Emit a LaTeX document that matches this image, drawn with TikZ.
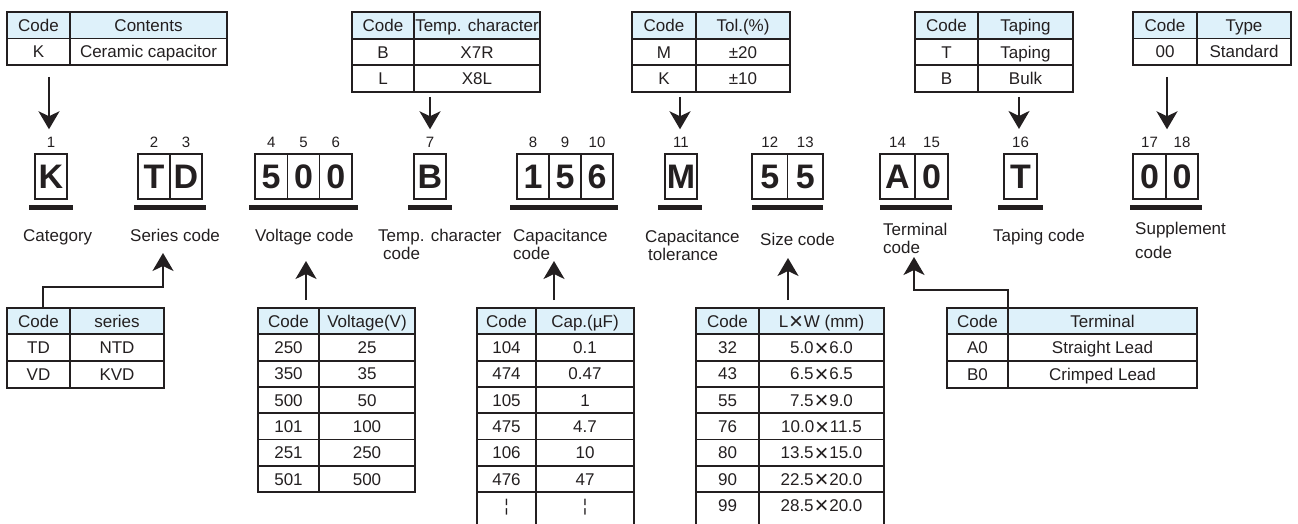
\documentclass[tikz,border=0pt]{standalone}
\usepackage{fontspec}
\setmainfont{Liberation Sans}
\usetikzlibrary{arrows.meta,positioning,calc}
\definecolor{ink}{RGB}{35,31,32}
\definecolor{headblue}{RGB}{222,241,250}
\newcommand{\sizex}{\kern0.8pt\raisebox{-2.6pt}{\fontsize{24}{24}\selectfont ×}\kern0.8pt}

\begin{document}
\begin{tikzpicture}[x=1pt, y=-1pt,
    tabline/.style={draw=ink, line width=1.8pt},
    headfill/.style={fill=headblue},
    tabtext/.style={font=\fontsize{17}{20}\selectfont, text=ink, inner sep=0pt, text height=12.2pt, text depth=0pt},
    cell/.style={draw=ink, line width=1.2pt, outer sep=0pt, inner sep=0pt, minimum width=32pt, minimum height=45pt, text=ink, font=\fontsize{34}{36}\selectfont\bfseries},
    posnum/.style={font=\fontsize{15}{18}\selectfont, text=ink, inner sep=0pt},
    bar/.style={draw=ink, line width=5.5pt},
    lbl/.style={font=\fontsize{17}{20}\selectfont, text=ink, inner sep=0pt, anchor=base west},
    pointer/.style={draw=ink, line width=2.2pt, -{Stealth[length=18pt, width=21pt, inset=5pt]}}]

    \useasboundingbox (0,0) rectangle (1298,524);
    \clip (0,0) rectangle (1298,524);

    % ---- top tables ----
    % category
    \fill[headfill] (7,12) rectangle (227,38.5);
    \draw[tabline] (7,12) rectangle (227,65);
    \draw[tabline] (7,38.5) -- (227,38.5) (70,12) -- (70,65);
    \foreach \code/\val [count=\i] in {Code/Contents, K/Ceramic capacitor} {
        \node[tabtext] (cat-\i-a) at (38.5,{12+26.5*(\i-0.5)}) {\code};
        \node[tabtext] (cat-\i-b) at (148.5,{12+26.5*(\i-0.5)}) {\val};
    }
    \coordinate (tabCat) at (49,65);

    % temp. character
    \fill[headfill] (352,12) rectangle (540,38.7);
    \draw[tabline] (352,12) rectangle (540,92);
    \draw[tabline] (352,38.7) -- (540,38.7) (352,65.4) -- (540,65.4) (414,12) -- (414,92);
    \foreach \code/\val [count=\i] in {Code/Temp. character, B/X7R, L/X8L} {
        \node[tabtext] (tmp-\i-a) at (383,{12+26.7*(\i-0.5)}) {\code};
        \node[tabtext] (tmp-\i-b) at (477,{12+26.7*(\i-0.5)}) {\val};
    }
    \coordinate (tabTemp) at (430,92);

    % tolerance
    \fill[headfill] (632,12) rectangle (790,38.7);
    \draw[tabline] (632,12) rectangle (790,92);
    \draw[tabline] (632,38.7) -- (790,38.7) (632,65.4) -- (790,65.4) (696,12) -- (696,92);
    \foreach \code/\val [count=\i] in {Code/Tol.(\%), M/±20, K/±10} {
        \node[tabtext] (tol-\i-a) at (664,{12+26.7*(\i-0.5)}) {\code};
        \node[tabtext] (tol-\i-b) at (743,{12+26.7*(\i-0.5)}) {\val};
    }
    \coordinate (tabTol) at (680,92);

    % taping
    \fill[headfill] (915,12) rectangle (1073,38.7);
    \draw[tabline] (915,12) rectangle (1073,92);
    \draw[tabline] (915,38.7) -- (1073,38.7) (915,65.4) -- (1073,65.4) (978,12) -- (978,92);
    \foreach \code/\val [count=\i] in {Code/Taping, T/Taping, B/Bulk} {
        \node[tabtext] (tap-\i-a) at (946.5,{12+26.7*(\i-0.5)}) {\code};
        \node[tabtext] (tap-\i-b) at (1025.5,{12+26.7*(\i-0.5)}) {\val};
    }
    \coordinate (tabTap) at (1019,92);

    % supplement
    \fill[headfill] (1133,12) rectangle (1291,38.5);
    \draw[tabline] (1133,12) rectangle (1291,65);
    \draw[tabline] (1133,38.5) -- (1291,38.5) (1197,12) -- (1197,65);
    \foreach \code/\val [count=\i] in {Code/Type, 00/Standard} {
        \node[tabtext] (sup-\i-a) at (1165,{12+26.5*(\i-0.5)}) {\code};
        \node[tabtext] (sup-\i-b) at (1244,{12+26.5*(\i-0.5)}) {\val};
    }
    \coordinate (tabSup) at (1167,65);

    % ---- code boxes ----
    \node[cell] (cK) at (51,176.5) {K};
    \node[cell] (cT) at (154,176.5) {T};
    \node[cell, right=0pt of cT] (cD) {D};
    \node[cell, minimum width=32.3pt] (cV1) at (271.2,176.5) {5};
    \node[cell, minimum width=32.3pt, right=0pt of cV1] (cV2) {0};
    \node[cell, minimum width=32.3pt, right=0pt of cV2] (cV3) {0};
    \node[cell] (cB) at (430,176.5) {B};
    \node[cell] (cC1) at (533,176.5) {1};
    \node[cell, right=0pt of cC1] (cC2) {5};
    \node[cell, right=0pt of cC2] (cC3) {6};
    \node[cell] (cM) at (681,176.5) {M};
    \node[cell, minimum width=35.5pt] (cS1) at (769.75,176.5) {5};
    \node[cell, minimum width=35.5pt, right=0pt of cS1] (cS2) {5};
    \node[cell, minimum width=35pt] (cA) at (897.5,176.5) {A};
    \node[cell, minimum width=33pt, right=0pt of cA] (cA0) {0};
    \node[cell, minimum width=33pt] (cTp) at (1020.5,176.5) {T};
    \node[cell, minimum width=33pt] (cZ1) at (1149.5,176.5) {0};
    \node[cell, right=0pt of cZ1] (cZ2) {0};

    % position numbers
    \node[posnum, above=6pt of cK] (n1) {1};
    \node[posnum, above=6pt of cT] (n2) {2};
    \node[posnum, above=6pt of cD] (n3) {3};
    \node[posnum, above=6pt of cV1] (n4) {4};
    \node[posnum, above=6pt of cV2] (n5) {5};
    \node[posnum, above=6pt of cV3] (n6) {6};
    \node[posnum, above=6pt of cB] (n7) {7};
    \node[posnum, above=6pt of cC1] (n8) {8};
    \node[posnum, above=6pt of cC2] (n9) {9};
    \node[posnum, above=6pt of cC3] (n10) {10};
    \node[posnum, above=6pt of cM] (n11) {11};
    \node[posnum, above=6pt of cS1] (n12) {12};
    \node[posnum, above=6pt of cS2] (n13) {13};
    \node[posnum, above=6pt of cA] (n14) {14};
    \node[posnum, above=6pt of cA0] (n15) {15};
    \node[posnum, above=6pt of cTp] (n16) {16};
    \node[posnum, above=6pt of cZ1] (n17) {17};
    \node[posnum, above=6pt of cZ2] (n18) {18};

    % bars under the boxes
    \foreach \xa/\xb in {29/73, 134/206, 249/358, 408/452, 510/618, 658/702, 752/823, 880/952, 998/1043, 1130/1202} {
        \draw[bar] (\xa,207.5) -- (\xb,207.5);
    }

    % labels
    \node[lbl] (lCat) at (23,241) {Category};
    \node[lbl] (lSer) at (130,241) {Series code};
    \node[lbl] (lVol) at (255,241) {Voltage code};
    \node[lbl] (lTmp) at (378,241) {Temp. character};
    \node[lbl] (lTmp2) at (383,259) {code};
    \node[lbl] (lCap) at (513,241) {Capacitance};
    \node[lbl] (lCap2) at (513,259) {code};
    \node[lbl] (lTol) at (645,242) {Capacitance};
    \node[lbl] (lTol2) at (648,260) {tolerance};
    \node[lbl] (lSiz) at (760,245) {Size code};
    \node[lbl] (lTer) at (883,235) {Terminal};
    \node[lbl] (lTer2) at (883,253) {code};
    \node[lbl] (lTap) at (993,241) {Taping code};
    \node[lbl] (lSup) at (1135,234) {Supplement};
    \node[lbl] (lSup2) at (1135,258) {code};

    % ---- bottom tables ----
    % series
    \fill[headfill] (7,308) rectangle (164,334);
    \draw[tabline] (7,308) rectangle (164,387.6);
    \draw[tabline] (7,334) -- (164,334) (7,360.8) -- (164,360.8) (70,308) -- (70,387.6);
    \foreach \code/\val [count=\i] in {Code/series, TD/NTD, VD/KVD} {
        \node[tabtext] (ser-\i-a) at (38.5,{308+26.5*(\i-0.5)}) {\code};
        \node[tabtext] (ser-\i-b) at (117,{308+26.5*(\i-0.5)}) {\val};
    }
    \coordinate (tabSer) at (43,308);

    % voltage
    \fill[headfill] (258,308) rectangle (415,334);
    \draw[tabline] (258,308) rectangle (415,492);
    \draw[tabline] (319,308) -- (319,492);
    \foreach \i in {1,...,6} \draw[tabline] (258,{308+26.3*\i}) -- (415,{308+26.3*\i});
    \foreach \code/\val [count=\i] in {Code/Voltage(V), 250/25, 350/35, 500/50, 101/100, 251/250, 501/500} {
        \node[tabtext] (vol-\i-a) at (288.5,{308+26.3*(\i-0.5)}) {\code};
        \node[tabtext] (vol-\i-b) at (367,{308+26.3*(\i-0.5)}) {\val};
    }
    \coordinate (tabVol) at (306,308);

    % capacitance
    \fill[headfill] (477,308) rectangle (634,334);
    \draw[tabline] (477,530) |- (634,308) -- (634,530) (536,308) -- (536,530);
    \foreach \i in {1,...,7} \draw[tabline] (477,{308+26.3*\i}) -- (634,{308+26.3*\i});
    \foreach \code/\val [count=\i] in {Code/Cap.(µF), 104/0.1, 474/0.47, 105/1, 475/4.7, 106/10, 476/47, ¦/¦} {
        \node[tabtext] (cap-\i-a) at (506.5,{308+26.3*(\i-0.5)}) {\code};
        \node[tabtext] (cap-\i-b) at (585,{308+26.3*(\i-0.5)}) {\val};
    }
    \coordinate (tabCap) at (554,308);

    % size
    \fill[headfill] (696,308) rectangle (884,334);
    \draw[tabline] (696,530) |- (884,308) -- (884,530) (759,308) -- (759,530);
    \foreach \i in {1,...,7} \draw[tabline] (696,{308+26.3*\i}) -- (884,{308+26.3*\i});
    \foreach \code/\val [count=\i] in {Code/L\sizex W (mm), 32/5.0\sizex6.0, 43/6.5\sizex6.5, 55/7.5\sizex9.0, 76/10.0\sizex11.5, 80/13.5\sizex15.0, 90/22.5\sizex20.0, 99/28.5\sizex20.0} {
        \node[tabtext] (siz-\i-a) at (727.5,{308+26.3*(\i-0.5)}) {\code};
        \node[tabtext] (siz-\i-b) at (821.5,{308+26.3*(\i-0.5)}) {\val};
    }
    \coordinate (tabSiz) at (788,308);

    % terminal
    \fill[headfill] (947,308) rectangle (1197,334);
    \draw[tabline] (947,308) rectangle (1197,387.6);
    \draw[tabline] (947,334) -- (1197,334) (947,360.8) -- (1197,360.8) (1008,308) -- (1008,387.6);
    \foreach \code/\val [count=\i] in {Code/Terminal, A0/Straight Lead, B0/Crimped Lead} {
        \node[tabtext] (ter-\i-a) at (977.5,{308+26.5*(\i-0.5)}) {\code};
        \node[tabtext] (ter-\i-b) at (1102.5,{308+26.5*(\i-0.5)}) {\val};
    }
    \coordinate (tabTer) at (1008,308);

    % ---- arrows ----
    \draw[pointer] ($(tabCat)+(0pt,-12pt)$) -- ($(tabCat |- n1.north)+(0pt,8pt)$);
    \draw[pointer] ($(tabTemp)+(0pt,-5pt)$) -- ($(tabTemp |- n7.north)+(0pt,8pt)$);
    \draw[pointer] ($(tabTol)+(0pt,-5pt)$) -- ($(tabTol |- n11.north)+(0pt,8pt)$);
    \draw[pointer] ($(tabTap)+(0pt,-5pt)$) -- ($(tabTap |- n16.north)+(0pt,8pt)$);
    \draw[pointer] ($(tabSup)+(0pt,-12pt)$) -- ($(tabSup |- n17.north)+(0pt,8pt)$);

    \coordinate (upSer) at (163,253);
    \coordinate (upVol) at (306,261);
    \coordinate (upCap) at (554,261);
    \coordinate (upSiz) at (788,258);
    \coordinate (upTer) at (914,257);
    \draw[pointer] (tabSer) -- ++(0,-21) -| (upSer);
    \draw[pointer] ($(tabVol)+(0pt,8pt)$) -- (upVol);
    \draw[pointer] ($(tabCap)+(0pt,8pt)$) -- (upCap);
    \draw[pointer] ($(tabSiz)+(0pt,8pt)$) -- (upSiz);
    \draw[pointer] (tabTer) -- ++(0,-18) -| (upTer);

\end{tikzpicture}
\end{document}
